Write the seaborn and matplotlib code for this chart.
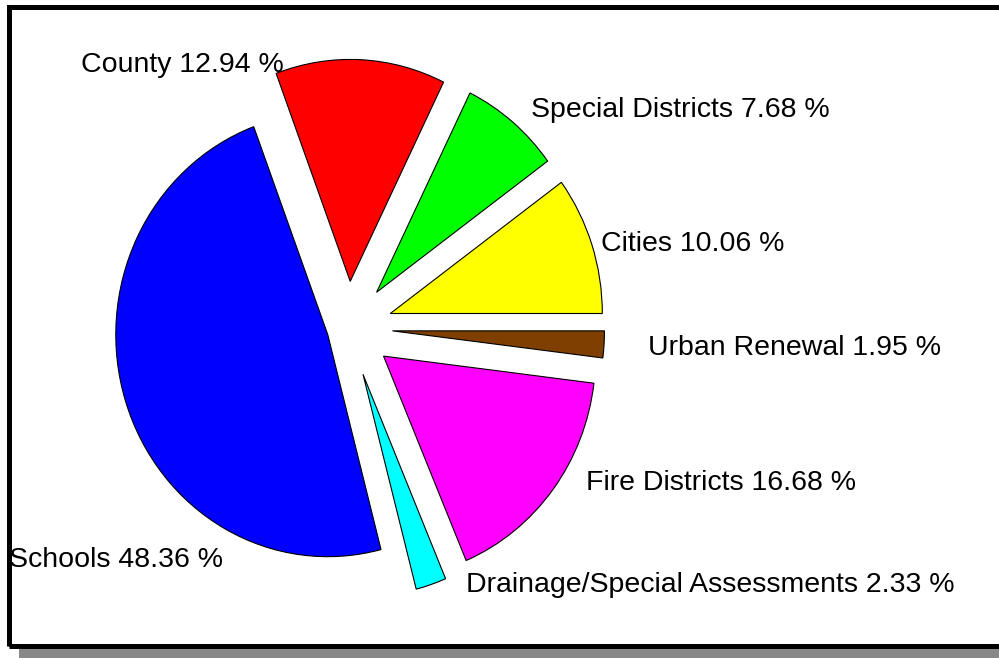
import matplotlib
matplotlib.use('Agg')
import matplotlib.pyplot as plt
from matplotlib.patches import Rectangle
import seaborn as sns

# datos del grafico (orden antihorario desde las 3 en punto)
categorias = ['Cities', 'Special Districts', 'County', 'Schools',
              'Drainage/Special Assessments', 'Fire Districts', 'Urban Renewal']
porcentajes = [10.06, 7.68, 12.94, 48.36, 2.33, 16.68, 1.95]
colores = ['#FFFF00', '#00FF00', '#FF0000', '#0000FF', '#00FFFF', '#FF00FF', '#7F3F00']
explode = [0.21, 0.21, 0.21, 0.10, 0.22, 0.21, 0.21]

# posiciones de las etiquetas (coordenadas del eje, x / linea base) y alineacion
label_pos = [(1.193, 0.347), (0.863, 0.950), (-0.302, 1.153), (-0.590, -1.077),
             (0.557, -1.189), (1.123, -0.730), (1.415, -0.122)]
label_ha = ['left', 'left', 'right', 'right', 'left', 'left', 'left']

sns.set_theme(style='white')
plt.rcParams['font.family'] = ['Liberation Sans', 'DejaVu Sans']

fig = plt.figure(figsize=(9.99, 6.58), dpi=100)
ax = fig.add_axes([0, 0, 1, 1])

ax.pie(porcentajes, colors=colores, explode=explode, startangle=0,
       counterclock=True, wedgeprops=dict(edgecolor='black', linewidth=0.8))

# el pastel original es un poco eliptico (mas alto que ancho)
ax.set_aspect('auto')
cx, cy, rx, ry = 348, 328, 212, 222
ax.set_xlim(-cx / rx, (999 - cx) / rx)
ax.set_ylim(-(658 - cy) / ry, cy / ry)
ax.axis('off')

for cat, pct, (x, y), ha in zip(categorias, porcentajes, label_pos, label_ha):
    ax.text(x, y, f'{cat} {pct:.2f} %', ha=ha, va='baseline', fontsize=20.5, color='black')

# marco con sombra gris
W, H = 999, 658
fig.patches.append(Rectangle((19 / W, 0), 1, 10 / H, transform=fig.transFigure,
                             facecolor='#888888', edgecolor='none', zorder=0))
fig.patches.append(Rectangle((8.5 / W, (H - 645.5) / H), 1, (645.5 - 6.5) / H,
                             transform=fig.transFigure, facecolor='none',
                             edgecolor='black', linewidth=3.6, zorder=1))

fig.savefig('out.png', dpi=100)
